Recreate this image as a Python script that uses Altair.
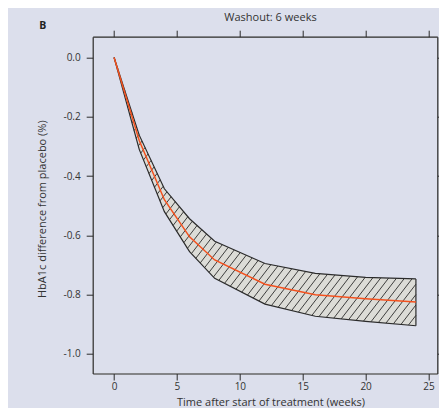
import altair as alt
import numpy as np
import pandas as pd

# ---- data ----
weeks = [0, 2, 4, 6, 8, 12, 16, 20, 24]
mean = [0.0, -0.28, -0.48, -0.605, -0.683, -0.765, -0.800, -0.814, -0.825]
upper = [0.0, -0.262, -0.443, -0.544, -0.620, -0.695, -0.728, -0.742, -0.747]
lower = [0.0, -0.310, -0.520, -0.655, -0.745, -0.832, -0.873, -0.890, -0.905]
x_ticks = [0, 5, 10, 15, 20, 25]
y_ticks = [0.0, -0.2, -0.4, -0.6, -0.8, -1.0]
title_text = "Washout: 6 weeks"
panel_text = "B"

XDOM = [-1.7, 25.7]
YDOM = [-1.066, 0.07]
W, H = 344.6, 336.8

df = pd.DataFrame({"week": weeks, "mean": mean, "upper": upper, "lower": lower})

# ---- hatch lines clipped to the band (derived geometry) ----
px_x = W / (XDOM[1] - XDOM[0])
px_y = H / (YDOM[1] - YDOM[0])
slope_px = 1.3
k = slope_px * px_x / px_y          # data slope of hatch lines
spacing_w = 8.0 / px_x              # horizontal spacing in weeks
dc = k * spacing_w
xs = np.linspace(0, weeks[-1], 9601)
lo = np.interp(xs, weeks, lower)
up = np.interp(xs, weeks, upper)
segs = []
c = min(lower) - k * weeks[-1] - dc
while c < dc:
    line = c + k * xs
    inside = (line >= lo) & (line <= up)
    if inside.any():
        idx = np.where(inside)[0]
        xa, xb = xs[idx[0]], xs[idx[-1]]
        if xb - xa > 1e-3:
            segs.append({"x": xa, "y": c + k * xa, "x2": xb, "y2": c + k * xb})
    c += dc
hatch = pd.DataFrame(segs)

INK = "#2b2b2b"
TXT = "#333333"
FONT = "Open Sans"

xs_scale = alt.Scale(domain=XDOM, nice=False, zero=False)
ys_scale = alt.Scale(domain=YDOM, nice=False, zero=False)

label_expr = "(datum.value < -0.0001 ? '-' : '') + format(abs(datum.value), '.1f')"

common = dict(grid=False, domain=True, domainColor=INK, domainWidth=1.2,
              tickSize=6.5, tickColor=INK, tickWidth=1)

x_axis = alt.Axis(values=x_ticks, title="Time after start of treatment (weeks)",
                  labelPadding=1.5, labelFontSize=10, labelColor=TXT,
                  titleFontSize=11, titleColor=TXT, titleFontWeight="normal",
                  titleX=177.8, titleY=32.3, titleBaseline="alphabetic", **common)
y_axis = alt.Axis(values=y_ticks, title="HbA1c difference from placebo (%)",
                  labelPadding=6, labelFontSize=10, labelColor=TXT, labelExpr=label_expr,
                  titleFontSize=11, titleColor=TXT, titleFontWeight="normal",
                  titleX=-49.7, titleY=172, titleBaseline="middle", **common)

base = alt.Chart(df)

area = base.mark_area(fill="#dcdcd7", opacity=1).encode(
    x=alt.X("week:Q", scale=xs_scale, axis=x_axis),
    y=alt.Y("lower:Q", scale=ys_scale, axis=y_axis),
    y2="upper:Q",
)

hatch_layer = alt.Chart(hatch).mark_rule(color=INK, strokeWidth=0.9).encode(
    x=alt.X("x:Q", scale=xs_scale), y=alt.Y("y:Q", scale=ys_scale),
    x2="x2:Q", y2="y2:Q",
)

up_line = base.mark_line(color=INK, strokeWidth=1.2).encode(
    x=alt.X("week:Q", scale=xs_scale), y=alt.Y("upper:Q", scale=ys_scale))
lo_line = base.mark_line(color=INK, strokeWidth=1.2).encode(
    x=alt.X("week:Q", scale=xs_scale), y=alt.Y("lower:Q", scale=ys_scale))
end_rule = alt.Chart(df.tail(1)).mark_rule(color=INK, strokeWidth=1.2).encode(
    x=alt.X("week:Q", scale=xs_scale), y=alt.Y("lower:Q", scale=ys_scale), y2="upper:Q")

mean_line = base.mark_line(color="#f4511e", strokeWidth=1.5).encode(
    x=alt.X("week:Q", scale=xs_scale), y=alt.Y("mean:Q", scale=ys_scale))

panel_label = alt.Chart(df.head(1)).mark_text(
    text=panel_text, fontSize=10.5, fontWeight="bold", color="#222222",
    align="center", baseline="middle", font=FONT
).encode(x=alt.value(-50), y=alt.value(-11.2))

title_label = alt.Chart(df.head(1)).mark_text(
    text=title_text, fontSize=11, color=TXT,
    align="center", baseline="alphabetic", font=FONT
).encode(x=alt.value(177.8), y=alt.value(-15.7))

main = alt.layer(area, hatch_layer, up_line, lo_line, end_rule, mean_line,
                 panel_label, title_label)

# opposite-side ticks (top and right), no labels
ghost = base.mark_point(opacity=0).encode(
    x=alt.X("week:Q", scale=alt.Scale(domain=XDOM, nice=False, zero=False),
            axis=alt.Axis(orient="top", values=x_ticks, labels=False, title="", **common)),
    y=alt.Y("mean:Q", scale=alt.Scale(domain=YDOM, nice=False, zero=False),
            axis=alt.Axis(orient="right", values=y_ticks, labels=False, title="", **common)),
)

chart = alt.layer(main, ghost).resolve_scale(x="independent", y="independent").properties(
    width=W, height=H,
    autosize=alt.AutoSizeParams(type="none"),
    padding={"left": 84.7, "top": 28.7, "right": 1.7, "bottom": 34.5},
    background="#dcdfec",
).configure_view(strokeWidth=0).configure(font=FONT)

chart.save("out.html", embed_options={"renderer": "svg", "actions": False})
